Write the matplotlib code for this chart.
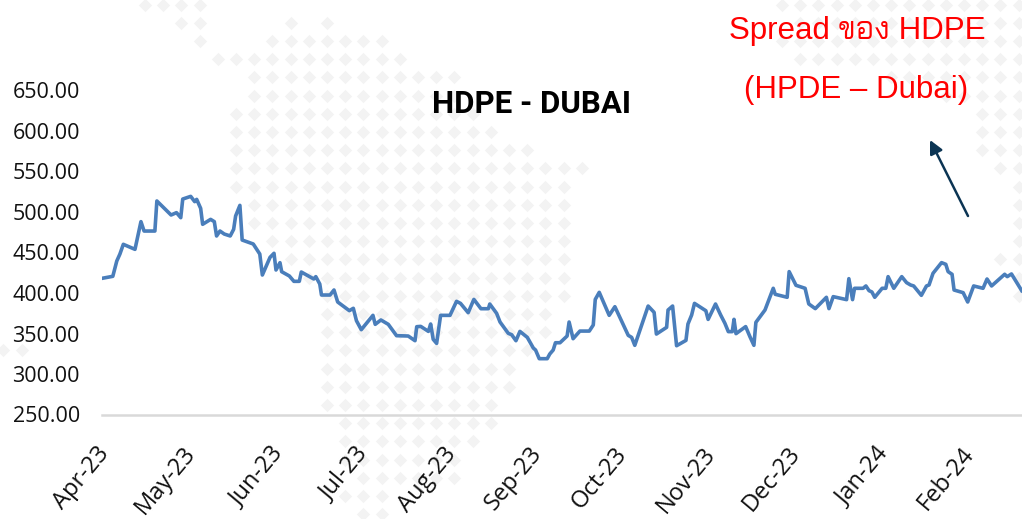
import matplotlib
matplotlib.use("Agg")
import matplotlib.pyplot as plt
from matplotlib.transforms import ScaledTranslation

# days since 1 Apr 2023
days = [0, 3.8, 5.2, 6.3, 7.5, 11.6, 13.7, 14.8, 18.6, 19.3, 24.3, 26.2, 27.7, 28.4, 31.2, 32.6, 33.3, 34.7, 35.4,
        38.2, 39.5, 40.3, 41.5, 43.0, 45.1, 46.3, 47.0, 48.5, 49.3, 53.2, 55.5, 56.4, 59.1, 60.5, 61.2, 62.6, 63.2,
        65.9, 67.5, 69.4, 70.1, 74.5, 75.2, 76.6, 77.2, 80.2, 81.6, 82.9, 87.0, 88.4, 89.5, 91.2, 95.3, 96.1, 98.1,
        100.7, 103.6, 107.7, 110.1, 110.7, 112.1, 114.8, 115.6, 116.5, 117.7, 119.1, 122.4, 124.7, 126.1, 128.8,
        130.8, 133.3, 135.9, 136.4, 138.8, 140.0, 142.9, 144.1, 145.6, 147.0, 149.6, 151.7, 152.5, 153.8, 156.6,
        157.5, 158.7, 159.5, 161.1, 163.6, 164.3, 165.7, 168.1, 171.4, 172.8, 173.5, 174.9, 178.4, 180.4, 185.1,
        186.3, 187.4, 192.1, 194.2, 195.0, 198.6, 199.1, 200.7, 202.1, 205.4, 206.1, 207.4, 208.4, 212.4, 213.2,
        215.8, 217.6, 219.1, 220.3, 221.7, 222.3, 223.0, 226.4, 227.9, 229.3, 230.0, 233.2, 236.1, 236.8, 241.0,
        241.7, 244.1, 247.3, 248.6, 250.9, 254.8, 255.7, 257.2, 261.9, 262.7, 264.0, 264.7, 267.7, 268.7, 269.8,
        270.8, 271.8, 274.4, 275.7, 276.5, 278.5, 281.3, 283.0, 284.4, 285.5, 288.2, 290.0, 290.9, 292.3, 295.3,
        296.8, 297.6, 299.0, 299.7, 302.9, 304.5, 306.6, 309.9, 311.3, 312.9, 317.5, 318.4, 319.9, 323.5]
spread = [418.1, 420.6, 439.5, 448.1, 460.1, 453.9, 488.1, 476.5, 476.5, 513.6, 496.3, 499.2, 493.0, 516.0, 519.3,
          512.8, 515.6, 504.5, 484.8, 490.9, 488.1, 470.4, 476.5, 472.8, 470.4, 478.6, 495.1, 508.2, 465.4, 460.5,
          448.1, 422.2, 444.0, 449.0, 428.4, 437.4, 426.3, 421.0, 414.4, 414.4, 425.9, 417.3, 420.2, 411.1, 397.5,
          397.5, 403.7, 388.9, 378.2, 381.1, 365.8, 354.7, 372.4, 361.3, 366.7, 361.3, 347.3, 346.9, 341.1, 358.4,
          358.8, 352.6, 361.7, 342.8, 337.8, 372.4, 372.4, 389.7, 387.2, 375.7, 392.1, 380.6, 380.6, 386.4, 374.9,
          364.2, 350.2, 348.5, 341.1, 352.6, 345.2, 332.1, 329.6, 318.9, 318.9, 324.7, 329.6, 338.6, 338.6, 346.9,
          364.2, 343.6, 353.0, 353.0, 360.5, 392.1, 400.8, 372.4, 383.1, 347.7, 345.2, 335.4, 383.9, 376.1, 349.3,
          357.6, 379.0, 383.9, 334.9, 341.5, 361.7, 372.8, 387.2, 378.1, 367.4, 386.4, 372.9, 362.6, 352.3, 352.3,
          367.5, 349.8, 358.5, 346.1, 335.4, 363.8, 379.0, 405.8, 398.4, 394.7, 426.4, 409.5, 405.8, 386.5, 380.7,
          394.7, 380.7, 395.5, 391.8, 417.7, 391.8, 405.8, 405.8, 408.7, 402.9, 401.3, 394.7, 405.8, 405.8, 420.2,
          405.8, 420.2, 412.8, 409.9, 408.7, 397.1, 408.7, 409.9, 424.3, 437.5, 435.4, 426.4, 423.1, 403.7, 400.4,
          388.9, 408.7, 405.8, 417.3, 408.7, 423.1, 420.2, 423.5, 402.9]

month_days = [0, 30, 61, 91, 122, 152, 182, 213, 243, 274, 304]
month_labels = ["Apr-23", "May-23", "Jun-23", "Jul-23", "Aug-23", "Sep-23", "Oct-23", "Nov-23", "Dec-23", "Jan-24", "Feb-24"]
y_ticks = [250, 300, 350, 400, 450, 500, 550, 600, 650]

# background dot map: (row, first column, last column)
dot_rows = [(0, -5, -2), (1, -3, -2), (1, 3, 3), (1, 5, 5), (2, -2, -2), (2, 2, 8), (3, -1, 9), (4, 1, 12), (5, 1, 12),
            (6, 0, 13), (7, 0, 14), (8, 0, 16), (9, 0, 19), (10, 0, 18), (11, 1, 18), (12, 1, 18), (13, 2, 18),
            (14, 3, 18), (15, 4, 18), (16, 5, 18), (17, 5, 17), (18, 5, 17), (19, 5, 16), (20, 5, 15), (21, 5, 15),
            (22, 5, 14), (23, 6, 14), (24, 6, 13), (25, 6, 12), (26, 7, 12), (27, 6, 8), (28, 7, 8),
            (0, 30, 43), (1, 31, 43), (2, 30, 43), (3, 31, 43), (4, 36, 43), (5, 39, 43), (6, 41, 43), (7, 41, 43),
            (8, 41, 43), (9, 42, 43), (10, 43, 43), (11, 43, 43), (12, 43, 43), (13, 43, 43), (14, 42, 43),
            (15, 43, 43), (16, 43, 43), (19, -13, -12)]

W, H = 1022, 519
fig = plt.figure(figsize=(W / 100, H / 100), dpi=100, facecolor="white")

# full-figure axes in pixel coordinates for the backdrop and annotations
bg = fig.add_axes([0, 0, 1, 1], zorder=0)
bg.set_xlim(0, W)
bg.set_ylim(H, 0)
bg.axis("off")

dot_x, dot_y = [], []
for row, k0, k1 in dot_rows:
    for k in range(k0, k1 + 1):
        dot_x.append(236 + 18.2 * k + (4 if k < -5 else 0))
        dot_y.append(4.5 + 18.2 * row)
bg.scatter(dot_x, dot_y, marker="D", s=46, color="#f3f3f3", linewidths=0)

ax = fig.add_axes([102 / W, (H - 414.5) / H, 920 / W, 324 / H], zorder=1)
ax.patch.set_alpha(0)
ax.plot(days, spread, color="#4a7ebb", lw=2.6, solid_joinstyle="round")
ax.set_xlim(0, 323.6)
ax.set_ylim(250, 650)

for s in ["top", "right", "left"]:
    ax.spines[s].set_visible(False)
ax.spines["bottom"].set_color("#d9d9d9")
ax.spines["bottom"].set_linewidth(1.8)

ax.set_yticks(y_ticks)
ax.set_yticklabels([f"{v:.2f}" for v in y_ticks], fontfamily="Open Sans", fontsize=15.5, color="#111111")
ax.set_xticks(month_days)
ax.set_xticklabels(month_labels, rotation=50, ha="right", rotation_mode="anchor",
                   fontfamily="Open Sans", fontsize=17, color="#111111")
ax.tick_params(axis="y", length=0, pad=16)
ax.tick_params(axis="x", length=0, pad=20)
# nudge month labels left so their tips sit where the reference has them
for lab in ax.get_xticklabels():
    lab.set_transform(lab.get_transform() + ScaledTranslation(-5.5 / 100, 0, fig.dpi_scale_trans))

bg.text(531, 104, "HDPE - DUBAI", ha="center", va="center", fontfamily="Roboto", fontweight="bold",
        fontsize=22.5, color="black")
bg.text(857, 31, "Spread ของ HDPE", ha="center", va="center", color="#ff0000", fontsize=22.5,
        family=["Liberation Sans", "Bai Jamjuree", "FreeSans", "DejaVu Sans"])
bg.text(856, 90, "(HPDE – Dubai)", ha="center", va="center", color="#ff0000", fontsize=22.5,
        family=["Liberation Sans", "Noto Sans"])
bg.annotate("", xy=(930, 140), xytext=(968, 216),
            arrowprops=dict(arrowstyle="-|>,head_length=0.8,head_width=0.4", color="#0c3554", lw=1.8,
                            shrinkA=0, shrinkB=0))

fig.savefig("out.png", dpi=100)
